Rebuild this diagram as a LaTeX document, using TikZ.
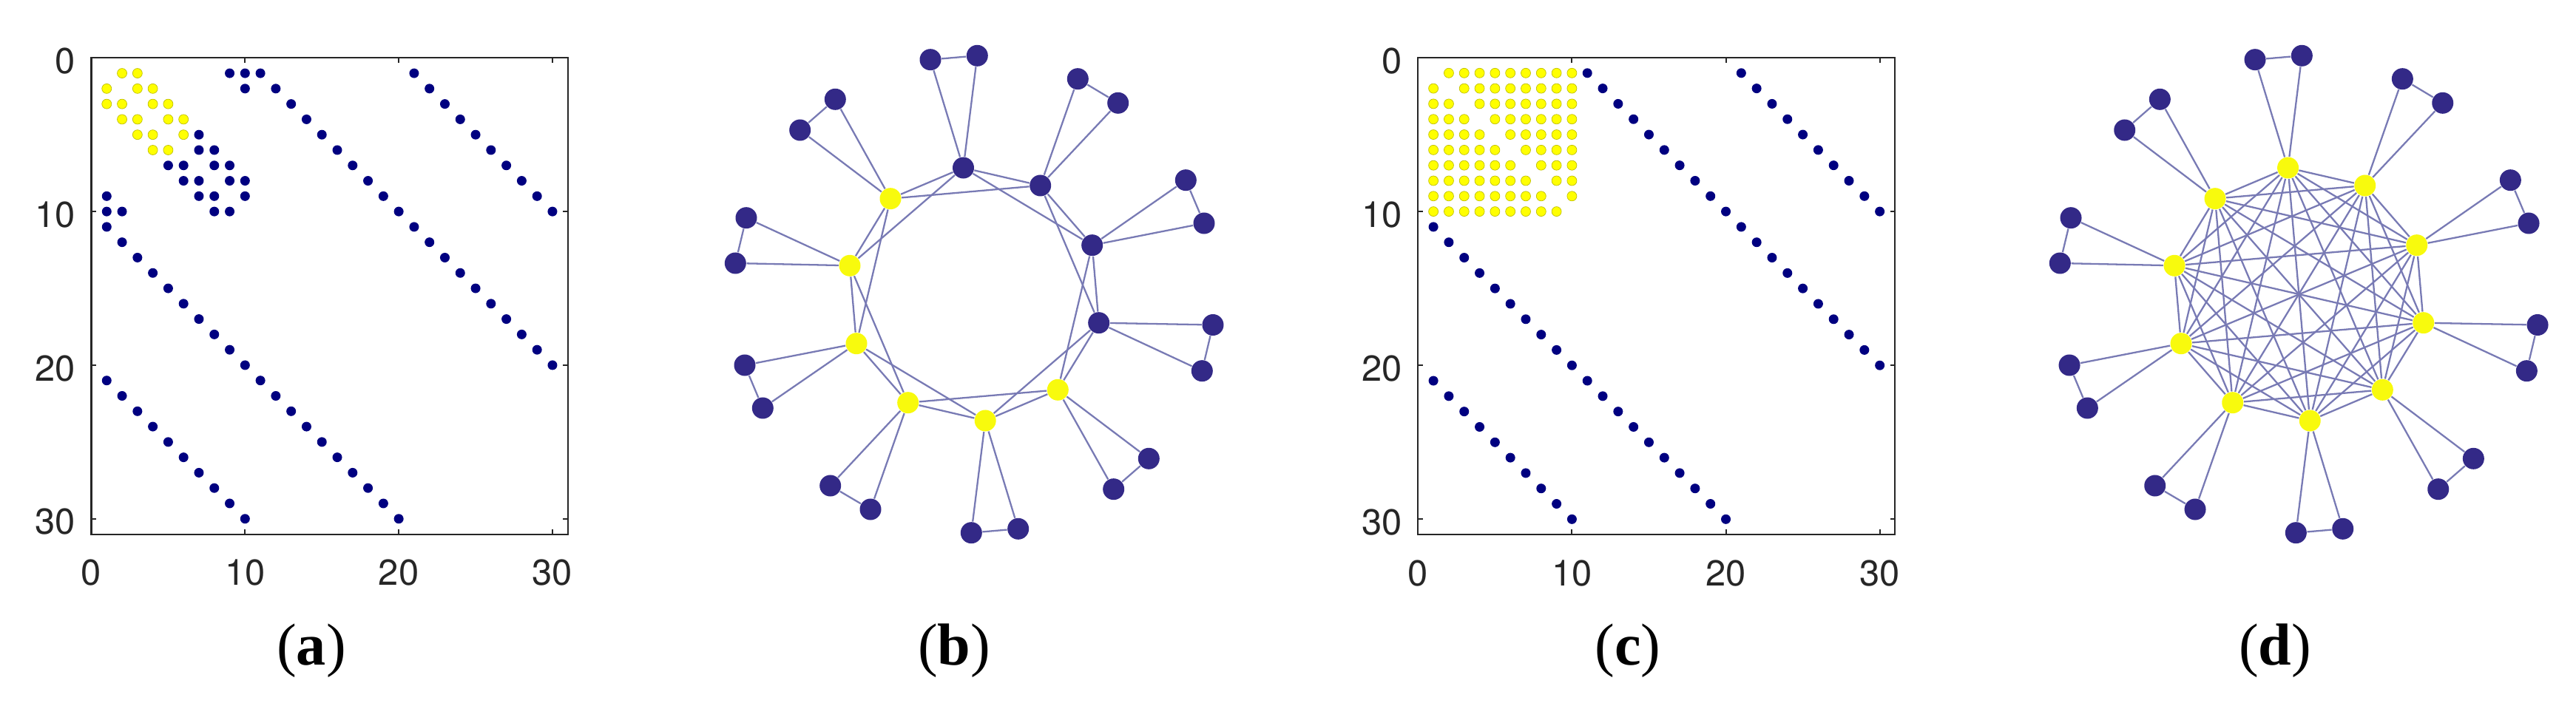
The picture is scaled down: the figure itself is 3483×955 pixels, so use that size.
\documentclass[tikz,border=0pt]{standalone}
\usepackage{fontspec}
\newfontfamily\axfont{TeX Gyre Heros}
\newfontfamily\labfont{Liberation Serif}
\usetikzlibrary{backgrounds}
\definecolor{navy}{RGB}{0,0,128}
\definecolor{myyel}{RGB}{255,255,0}
\definecolor{gblue}{RGB}{51,41,135}
\definecolor{gyel}{RGB}{248,250,13}
\definecolor{gedgecol}{RGB}{120,122,180}
\definecolor{axgray}{RGB}{38,38,38}
\tikzset{
  bdot/.style={fill=navy},
  ydot/.style={fill=myyel, draw=myyel!75!black, line width=0.2pt},
  axline/.style={draw=axgray, line width=0.57pt},
  ticklab/.style={text=axgray, font=\axfont\fontsize{13.9}{16}\selectfont, inner sep=0pt},
  panellab/.style={font=\labfont\fontsize{22.8}{26}\selectfont, inner sep=0pt},
  gnodeB/.style={circle, fill=gblue, minimum size=0.29cm, inner sep=0pt},
  gnodeY/.style={circle, fill=gyel, minimum size=0.29cm, inner sep=0pt},
  gline/.style={draw=gedgecol, line width=0.65pt},
}
\begin{document}
\begin{tikzpicture}[x=0.01cm,y=-0.01cm]
\useasboundingbox (0,0) rectangle (3483,955);

% ---------- panel (a) ----------
\begin{scope}[shift={(123.5,78.3)}, x=0.2077cm, y=-0.2077cm]
  \draw[axline] (0,0) rectangle (31,31);
  \foreach \t in {10,20,30} {
    \draw[axline] (\t,31) -- ++(0,-0.32);
    \draw[axline] (\t,0) -- ++(0,0.32);
    \draw[axline] (0,\t) -- ++(0.32,0);
    \draw[axline] (31,\t) -- ++(-0.32,0);
  }
  \foreach \t in {0,10,20,30} {
    \node[ticklab] (ax\t) at (\t,33.5) {\t};
    \node[ticklab, anchor=east] (ay\t) at (-1.0,\t+0.2) {\t};
  }
  \foreach \i in {1,...,10} {
    \fill[bdot] (\i+10,\i) circle[radius=0.065cm];
    \fill[bdot] (\i+20,\i) circle[radius=0.065cm];
    \fill[bdot] (\i,\i+10) circle[radius=0.065cm];
    \fill[bdot] (\i+20,\i+10) circle[radius=0.065cm];
    \fill[bdot] (\i,\i+20) circle[radius=0.065cm];
    \fill[bdot] (\i+10,\i+20) circle[radius=0.065cm];
    \foreach \d in {1,2,8,9} {
      \pgfmathtruncatemacro\j{mod(\i-1+\d,10)+1}
      \ifnum\i<7 \ifnum\j<7
        \fill[ydot] (\j,\i) circle[radius=0.065cm];
      \else
        \fill[bdot] (\j,\i) circle[radius=0.065cm];
      \fi\else
        \fill[bdot] (\j,\i) circle[radius=0.065cm];
      \fi
    }
  }
\end{scope}

% ---------- panel (c) ----------
\begin{scope}[shift={(1917.3,78.0)}, x=0.2080cm, y=-0.2080cm]
  \draw[axline] (0,0) rectangle (31,31);
  \foreach \t in {10,20,30} {
    \draw[axline] (\t,31) -- ++(0,-0.32);
    \draw[axline] (\t,0) -- ++(0,0.32);
    \draw[axline] (0,\t) -- ++(0.32,0);
    \draw[axline] (31,\t) -- ++(-0.32,0);
  }
  \foreach \t in {0,10,20,30} {
    \node[ticklab] (cx\t) at (\t,33.5) {\t};
    \node[ticklab, anchor=east] (cy\t) at (-1.0,\t+0.2) {\t};
  }
  \foreach \i in {1,...,10} {
    \fill[bdot] (\i+10,\i) circle[radius=0.065cm];
    \fill[bdot] (\i+20,\i) circle[radius=0.065cm];
    \fill[bdot] (\i,\i+10) circle[radius=0.065cm];
    \fill[bdot] (\i+20,\i+10) circle[radius=0.065cm];
    \fill[bdot] (\i,\i+20) circle[radius=0.065cm];
    \fill[bdot] (\i+10,\i+20) circle[radius=0.065cm];
    \foreach \j in {1,...,10} {
      \ifnum\i=\j\else
        \fill[ydot] (\j,\i) circle[radius=0.065cm];
      \fi
    }
  }
\end{scope}

% ---------- graph nodes (b) ----------
\foreach \k/\x/\y in {1/1302.5/227, 2/1406.7/251, 3/1476.7/331.7, 4/1485.7/436.7}
  \node[gnodeB] (bi\k) at (\x,\y) {};
\foreach \k/\x/\y in {5/1430.3/527.3, 6/1332.2/569, 7/1227.7/544.7, 8/1158/464.7, 9/1149/359.3, 10/1204/268.7}
  \node[gnodeY] (bi\k) at (\x,\y) {};
\foreach \k/\xa/\ya/\xb/\yb in {1/1258/80.7/1321.3/75.3, 2/1457.3/106.7/1511.7/139.3,
   3/1603.3/243.7/1628/302, 4/1640/439.5/1625.3/501.7, 5/1553.3/620.3/1505.7/661.7,
   6/1376.7/715.3/1313.3/720.7, 7/1177/689/1122.7/657, 8/1031.3/552/1007/494,
   9/994.3/356/1009/294.7, 10/1081.7/176/1129.3/134.3} {
  \node[gnodeB] (ba\k) at (\xa,\ya) {};
  \node[gnodeB] (bb\k) at (\xb,\yb) {};
}
% ---------- graph nodes (d) ----------
\begin{scope}[xshift=17.90cm]
\foreach \k/\x/\y in {1/1302.5/227, 2/1406.7/251, 3/1476.7/331.7, 4/1485.7/436.7,
   5/1430.3/527.3, 6/1332.2/569, 7/1227.7/544.7, 8/1158/464.7, 9/1149/359.3, 10/1204/268.7}
  \node[gnodeY] (di\k) at (\x,\y) {};
\foreach \k/\xa/\ya/\xb/\yb in {1/1258/80.7/1321.3/75.3, 2/1457.3/106.7/1511.7/139.3,
   3/1603.3/243.7/1628/302, 4/1640/439.5/1625.3/501.7, 5/1553.3/620.3/1505.7/661.7,
   6/1376.7/715.3/1313.3/720.7, 7/1177/689/1122.7/657, 8/1031.3/552/1007/494,
   9/994.3/356/1009/294.7, 10/1081.7/176/1129.3/134.3} {
  \node[gnodeB] (da\k) at (\xa,\ya) {};
  \node[gnodeB] (db\k) at (\xb,\yb) {};
}
\end{scope}

% ---------- edges ----------
\begin{pgfonlayer}{background}
\foreach \k in {1,...,10} {
  \pgfmathtruncatemacro\ka{mod(\k,10)+1}
  \pgfmathtruncatemacro\kb{mod(\k+1,10)+1}
  \draw[gline] (bi\k) -- (bi\ka);
  \draw[gline] (bi\k) -- (bi\kb);
  \draw[gline] (bi\k) -- (ba\k);
  \draw[gline] (bi\k) -- (bb\k);
  \draw[gline] (ba\k) -- (bb\k);
  \draw[gline] (di\k) -- (da\k);
  \draw[gline] (di\k) -- (db\k);
  \draw[gline] (da\k) -- (db\k);
}
\foreach \k in {1,...,9} {
  \pgfmathtruncatemacro\s{\k+1}
  \foreach \l in {\s,...,10}
    \draw[gline] (di\k) -- (di\l);
}
\end{pgfonlayer}

% ---------- panel labels ----------
\node[panellab] (la) at (421,880) {(\textbf{a})};
\node[panellab] (lb) at (1290,880) {(\textbf{b})};
\node[panellab] (lc) at (2201,880) {(\textbf{c})};
\node[panellab] (ld) at (3076,880) {(\textbf{d})};
\end{tikzpicture}
\end{document}
